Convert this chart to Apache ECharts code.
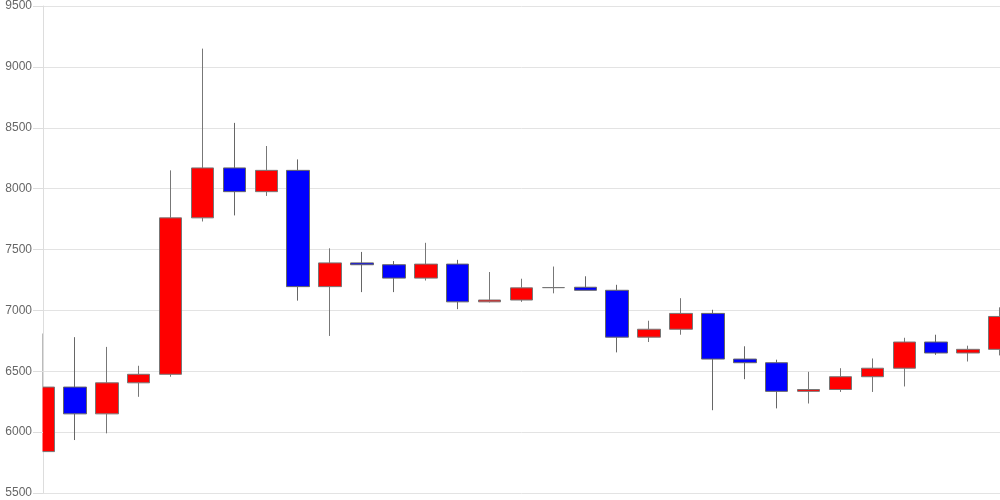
<!DOCTYPE html>
<html>
<head>
<meta charset="utf-8">
<script src="https://cdn.jsdelivr.net/npm/echarts@6/dist/echarts.min.js"></script>
<style>html,body{margin:0;padding:0;background:#fff}#c{width:1000px;height:500px}</style>
</head>
<body>
<div id="c"></div>
<script>
var categories = ['1','2','3','4','5','6','7','8','9','10','11','12','13','14','15','16','17','18','19','20','21','22','23','24','25','26','27','28','29','30','31'];
var openValues  = [5840,6370,6150,6405,6475,7760,8170,7975,8150,7195,7390,7375,7265,7380,7070,7085,7187,7190,7165,6780,6845,6975,6600,6570,6335,6350,6455,6525,6740,6650,6680];
var closeValues = [6370,6150,6405,6475,7760,8170,7975,8150,7195,7390,7375,7265,7380,7070,7085,7185,7187,7165,6780,6845,6975,6600,6570,6335,6350,6455,6525,6740,6650,6680,6950];
var lowValues   = [5840,5935,5990,6290,6455,7730,7780,7940,7080,6790,7150,7150,7245,7010,7065,7070,7140,7165,6655,6740,6800,6180,6435,6195,6235,6330,6330,6375,6635,6580,6630];
var highValues  = [6810,6780,6700,6545,8150,9150,8540,8350,8240,7510,7480,7405,7555,7415,7315,7260,7360,7280,7210,6915,7100,7005,6705,6595,6495,6525,6605,6775,6800,6710,7025];
var yTicks = [5500,6000,6500,7000,7500,8000,8500,9000,9500];

var data = categories.map(function(c,i){return [openValues[i],closeValues[i],lowValues[i],highValues[i]];});
var yMin = yTicks[0], yMax = yTicks[yTicks.length-1];
var chart = echarts.init(document.getElementById('c'));
chart.setOption({
  animation:false,
  grid:{left:43,right:0,top:6,bottom:7},
  xAxis:{type:'category',data:categories,boundaryGap:false,
    axisLine:{show:false},axisTick:{show:false},axisLabel:{show:false},splitLine:{show:false}},
  yAxis:[
    {type:'value',min:yMin,max:yMax,interval:500,z:0,
      axisLine:{show:true,lineStyle:{color:'#dddddd'}},axisTick:{show:false},axisLabel:{show:false},
      splitLine:{show:true,lineStyle:{color:'#e3e3e3'}}},
    {type:'value',position:'left',min:yMin,max:yMax,interval:500,z:10,
      axisLine:{show:false},
      axisTick:{show:true,length:10,lineStyle:{color:'#dddddd'}},
      axisLabel:{margin:11,color:'#666',fontSize:12,fontFamily:'Liberation Sans, Arial, sans-serif',
        formatter:function(v){return String(v);}},
      splitLine:{show:false}}
  ],
  graphic:[{type:'rect',z:5,silent:true,shape:{x:0,y:0,width:42.5,height:500},style:{fill:'#ffffff'}}],
  series:[{type:'candlestick',data:data,barWidth:23,yAxisIndex:0,z:2,
    itemStyle:{color:'#ff0000',color0:'#0000ff',borderColor:'#777',borderColor0:'#666',borderWidth:1}}]
});
</script>
</body>
</html>
